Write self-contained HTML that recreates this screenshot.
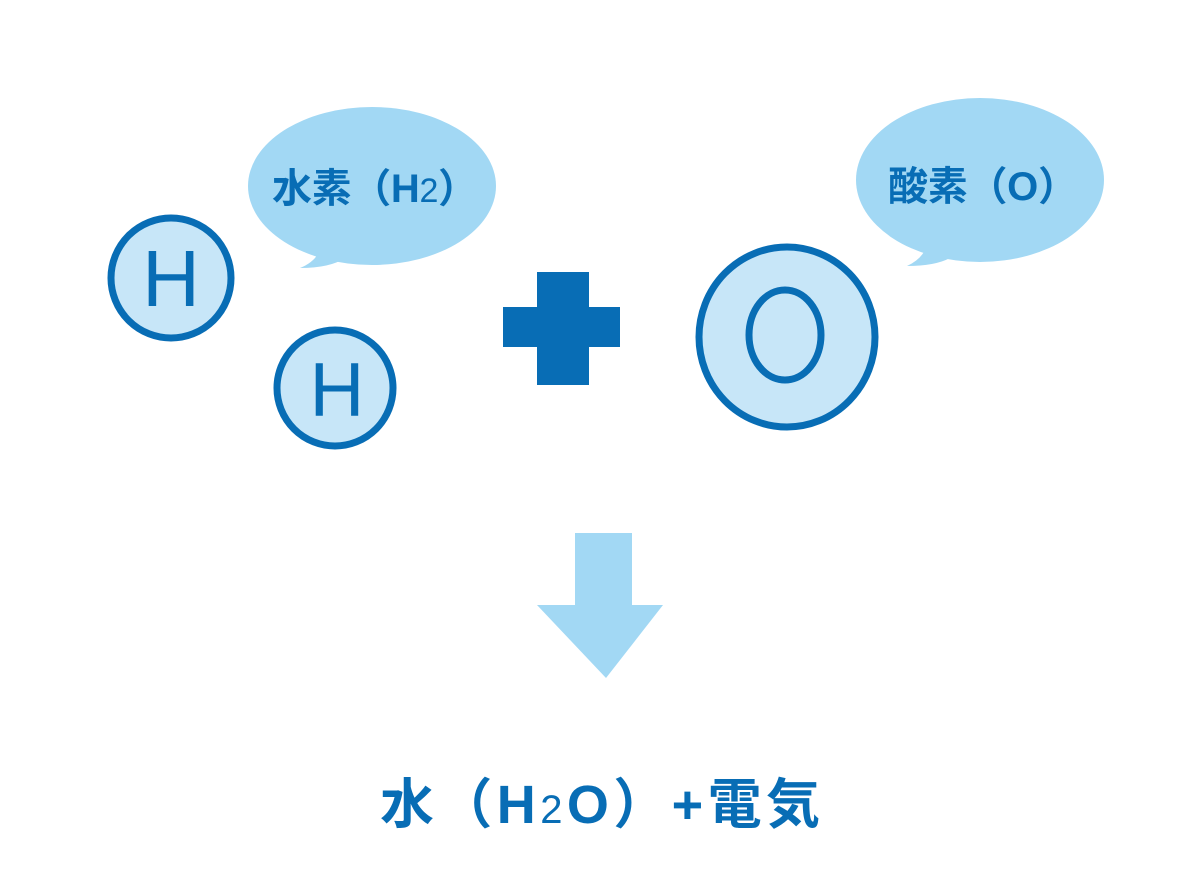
<!DOCTYPE html>
<html><head><meta charset="utf-8"><style>
html,body{margin:0;padding:0;background:#fff;}
svg{display:block;}
text{font-family:"Liberation Sans","Noto Sans CJK JP",sans-serif;}
</style></head><body>
<svg width="1200" height="870" viewBox="0 0 1200 870" xmlns="http://www.w3.org/2000/svg">
<!-- bubble 1 -->
<ellipse cx="372" cy="186" rx="124" ry="79" fill="#a2d8f4"/>
<path d="M320 250 Q315 262 300 268 Q330 268 345 258 Z" fill="#a2d8f4"/>
<text x="272" y="202" font-size="40" font-weight="bold" fill="#086db5" textLength="206" lengthAdjust="spacing">水素（H<tspan font-size="34" font-weight="normal">2</tspan>）</text>
<!-- bubble 2 -->
<ellipse cx="980" cy="180" rx="124" ry="82" fill="#a2d8f4"/>
<path d="M925 250 Q920 260 907 266 Q935 266 950 258 Z" fill="#a2d8f4"/>
<text x="888" y="200" font-size="40" font-weight="bold" fill="#086db5" textLength="190" lengthAdjust="spacing">酸素（O）</text>
<!-- H circles -->
<circle cx="171" cy="278" r="60" fill="#c7e6f8" stroke="#086db5" stroke-width="7"/>
<text x="171" y="306" font-size="80" fill="#086db5" text-anchor="middle">H</text>
<circle cx="335" cy="388" r="58" fill="#c7e6f8" stroke="#086db5" stroke-width="7"/>
<text x="337" y="416" font-size="76" fill="#086db5" text-anchor="middle">H</text>
<!-- plus -->
<rect x="537" y="272" width="52" height="113" fill="#086db5"/>
<rect x="503" y="307" width="117" height="40" fill="#086db5"/>
<!-- O circle -->
<ellipse cx="787" cy="337" rx="88" ry="90" fill="#c7e6f8" stroke="#086db5" stroke-width="7"/>
<ellipse cx="785" cy="335" rx="36" ry="45" fill="none" stroke="#086db5" stroke-width="7"/>
<!-- arrow -->
<rect x="575" y="533" width="57" height="73" fill="#a2d8f4"/>
<polygon points="537,605 663,605 606,678" fill="#a2d8f4"/>
<!-- result -->
<text x="380" y="823" font-size="54" font-weight="bold" fill="#086db5" textLength="440" lengthAdjust="spacing">水（H<tspan font-size="40" font-weight="normal">2</tspan>O）+電気</text>
</svg>
</body></html>
